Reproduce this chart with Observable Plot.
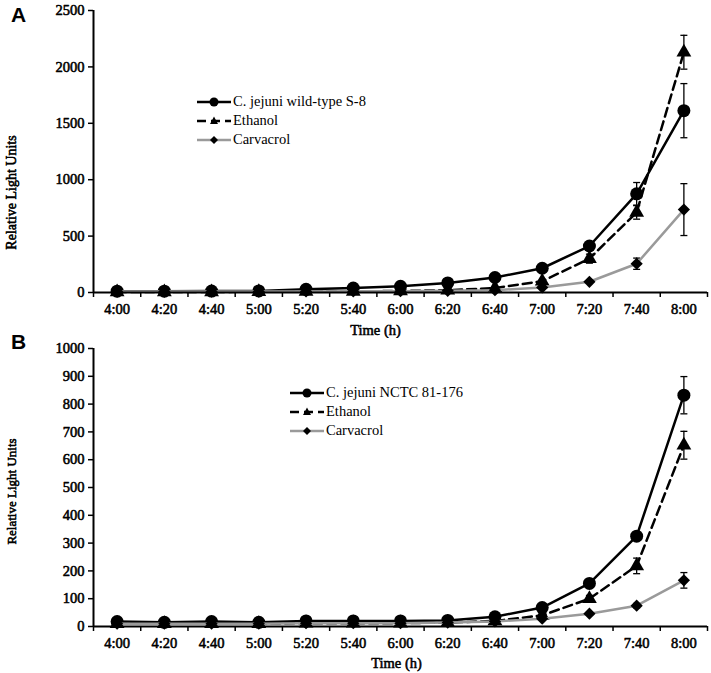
<!DOCTYPE html>
<html>
<head>
<meta charset="utf-8">
<script src="https://cdn.jsdelivr.net/npm/d3@7"></script>
<script src="https://cdn.jsdelivr.net/npm/@observablehq/plot@0.6"></script>
<style>
  html, body { margin: 0; padding: 0; background: #fff; }
  #wrap { position: relative; width: 711px; height: 673px; overflow: hidden; font-family: "Liberation Serif", "Times New Roman", serif; }
  .panel { position: absolute; left: 0; }
  .plabel { position: absolute; left: 11px; font-family: "Liberation Sans", Arial, sans-serif; font-weight: bold; font-size: 21px; line-height: 1; }
  .legend { position: absolute; font-family: "Liberation Serif", serif; font-size: 14.5px; color: #000; }
  .legend .row { display: flex; align-items: center; height: 19px; }
  .legend svg { display: block; margin-right: 2px; }
</style>
</head>
<body>
<div id="wrap"></div>
<script>
const categories = ["4:00","4:20","4:40","5:00","5:20","5:40","6:00","6:20","6:40","7:00","7:20","7:40","8:00"];

// Panel A
const yTicksA = [0, 500, 1000, 1500, 2000, 2500];
const wildA    = [12, 12, 13, 14, 28, 40, 55, 85, 133, 215, 412, 875, 1612];
const wildAErr = [3, 3, 3, 3, 4, 5, 6, 8, 10, 15, 25, 100, 240];
const ethA     = [5, 5, 5, 6, 8, 10, 14, 20, 40, 100, 300, 710, 2130];
const ethAErr  = [2, 2, 2, 2, 2, 3, 3, 4, 6, 10, 40, 60, 150];
const carA     = [8, 8, 8, 8, 9, 10, 12, 15, 20, 45, 95, 255, 735];
const carAErr  = [2, 2, 2, 2, 2, 2, 3, 3, 4, 6, 10, 50, 230];

// Panel B
const yTicksB = [0, 100, 200, 300, 400, 500, 600, 700, 800, 900, 1000];
const wildB    = [18, 15, 18, 15, 20, 20, 20, 22, 35, 68, 155, 325, 832];
const wildBErr = [3, 3, 3, 3, 3, 3, 3, 3, 4, 6, 8, 12, 67];
const ethB     = [10, 10, 10, 10, 12, 12, 12, 14, 20, 40, 100, 218, 652];
const ethBErr  = [2, 2, 2, 2, 2, 2, 2, 2, 3, 4, 12, 28, 50];
const carB     = [10, 10, 10, 10, 12, 12, 12, 14, 18, 28, 46, 75, 166];
const carBErr  = [2, 2, 2, 2, 2, 2, 2, 2, 2, 3, 5, 8, 28];

const legendA = ["C. jejuni wild-type S-8", "Ethanol", "Carvacrol"];
const legendB = ["C. jejuni NCTC 81-176", "Ethanol", "Carvacrol"];

const GRAY = "#9a9a9a";
const SERIF = "Liberation Serif";
const capSymbol = {
  draw(context, size) {
    const w = Math.sqrt(size / Math.PI);
    context.moveTo(-w, 0);
    context.lineTo(w, 0);
  }
};

function rows(vals, errs) {
  return vals.map((v, i) => ({cat: categories[i], i, v, lo: v - errs[i], hi: v + errs[i]}));
}

function seriesMarks(data, stroke, dash, symbol, r) {
  return [
    Plot.ruleX(data, {x: "i", y1: "lo", y2: "hi", stroke: "black", strokeWidth: 1.3}),
    Plot.dot(data, {x: "i", y: "lo", symbol: capSymbol, r: 3.5, stroke: "black", strokeWidth: 1.3, fill: "none"}),
    Plot.dot(data, {x: "i", y: "hi", symbol: capSymbol, r: 3.5, stroke: "black", strokeWidth: 1.3, fill: "none"}),
    Plot.line(data, {x: "i", y: "v", stroke, strokeWidth: 2.5, strokeDasharray: dash}),
    Plot.dot(data, {x: "i", y: "v", symbol, r, fill: "black", stroke: "none"})
  ];
}

function makePanel({height, marginBottom, yMax, yTicks, series, yLabelDy, yLabelSize, xLabelDx, xLabelDy}) {
  const idx = categories.map((c, i) => i);
  const bounds = categories.map((c, i) => i - 0.5).concat([categories.length - 0.5]);
  const axTxt = {fontFamily: SERIF, fontWeight: "normal", fontSize: 14.5, fill: "black", textStroke: "black", textStrokeWidth: 0.55};
  const txt = {fontFamily: SERIF, fontWeight: "normal", fontSize: 14.5, fill: "black", stroke: "black", strokeWidth: 0.55};
  return Plot.plot({
    width: 711,
    height,
    marginTop: 10,
    marginBottom,
    marginLeft: 93,
    marginRight: 4,
    style: {fontFamily: SERIF, fontSize: "14.5px", color: "black", background: "white"},
    x: {type: "linear", domain: [-0.5, categories.length - 0.5]},
    y: {domain: [0, yMax]},
    marks: [
      Plot.axisY({ticks: yTicks, tickSize: 5, tickPadding: 4, label: null, strokeWidth: 1.5, tickFormat: d => String(d), ...axTxt}),
      Plot.axisX({ticks: idx, tickSize: 0, tickPadding: 11, tickFormat: i => categories[i], label: null, ...axTxt}),
      Plot.axisX({ticks: bounds, tickSize: 5, tickPadding: 0, tickFormat: () => "", label: null, strokeWidth: 1.5}),
      ...series.flatMap(s => seriesMarks(s.data, s.stroke, s.dash, s.symbol, s.r)),
      Plot.ruleY([0], {stroke: "black", strokeWidth: 2}),
      Plot.ruleX([-0.5], {stroke: "black", strokeWidth: 2}),
      Plot.text(["Relative Light Units"], {frameAnchor: "left", textAnchor: "middle", lineAnchor: "middle", dx: -82, dy: yLabelDy, rotate: -90, ...txt, fontSize: yLabelSize}),
      Plot.text(["Time (h)"], {frameAnchor: "bottom", textAnchor: "middle", lineAnchor: "middle", dx: xLabelDx, dy: xLabelDy, ...txt})
    ]
  });
}

function legendSwatch(kind) {
  const ns = "http://www.w3.org/2000/svg";
  const svg = document.createElementNS(ns, "svg");
  svg.setAttribute("width", 34); svg.setAttribute("height", 14);
  const line = document.createElementNS(ns, "line");
  line.setAttribute("x1", 0); line.setAttribute("x2", 34);
  line.setAttribute("y1", 7); line.setAttribute("y2", 7);
  line.setAttribute("stroke-width", 2.5);
  line.setAttribute("stroke", kind === "car" ? GRAY : "black");
  if (kind === "eth") line.setAttribute("stroke-dasharray", "9,5");
  svg.appendChild(line);
  let m;
  if (kind === "wild") {
    m = document.createElementNS(ns, "circle");
    m.setAttribute("cx", 17); m.setAttribute("cy", 7); m.setAttribute("r", 4.5);
  } else if (kind === "eth") {
    m = document.createElementNS(ns, "path");
    m.setAttribute("d", "M17,2.5L21,10L13,10Z");
  } else {
    m = document.createElementNS(ns, "path");
    m.setAttribute("d", "M17,3L21,7L17,11L13,7Z");
  }
  m.setAttribute("fill", "black");
  svg.appendChild(m);
  return svg;
}

function makeLegend(labels, left, top) {
  const div = document.createElement("div");
  div.className = "legend";
  div.style.left = left + "px";
  div.style.top = top + "px";
  const kinds = ["wild", "eth", "car"];
  labels.forEach((t, k) => {
    const row = document.createElement("div");
    row.className = "row";
    row.appendChild(legendSwatch(kinds[k]));
    const span = document.createElement("span");
    span.textContent = t;
    row.appendChild(span);
    div.appendChild(row);
  });
  return div;
}

const wrap = document.getElementById("wrap");

const plotA = makePanel({
  height: 338, marginBottom: 46, yMax: 2500, yTicks: yTicksA,
  yLabelDy: 41, yLabelSize: 14, xLabelDx: -25, xLabelDy: 38,
  series: [
    {data: rows(wildA, wildAErr), stroke: "black", dash: null, symbol: "circle", r: 6.5},
    {data: rows(ethA, ethAErr), stroke: "black", dash: "9,5", symbol: "triangle", r: 5.5},
    {data: rows(carA, carAErr), stroke: GRAY, dash: null, symbol: "diamond2", r: 5.5}
  ]
});
plotA.classList.add("panel");
plotA.style.top = "0px";
wrap.appendChild(plotA);

const plotB = makePanel({
  height: 335, marginBottom: 47, yMax: 1000, yTicks: yTicksB,
  yLabelDy: 4, yLabelSize: 13, xLabelDx: -4, xLabelDy: 37,
  series: [
    {data: rows(wildB, wildBErr), stroke: "black", dash: null, symbol: "circle", r: 6.5},
    {data: rows(ethB, ethBErr), stroke: "black", dash: "9,5", symbol: "triangle", r: 5.5},
    {data: rows(carB, carBErr), stroke: GRAY, dash: null, symbol: "diamond2", r: 5.5}
  ]
});
plotB.classList.add("panel");
plotB.style.top = "338px";
wrap.appendChild(plotB);

wrap.appendChild(makeLegend(legendA, 197, 92));
wrap.appendChild(makeLegend(legendB, 290, 383));

const la = document.createElement("div"); la.className = "plabel"; la.style.top = "4px"; la.textContent = "A"; wrap.appendChild(la);
const lb = document.createElement("div"); lb.className = "plabel"; lb.style.top = "331px"; lb.textContent = "B"; wrap.appendChild(lb);
</script>
</body>
</html>
